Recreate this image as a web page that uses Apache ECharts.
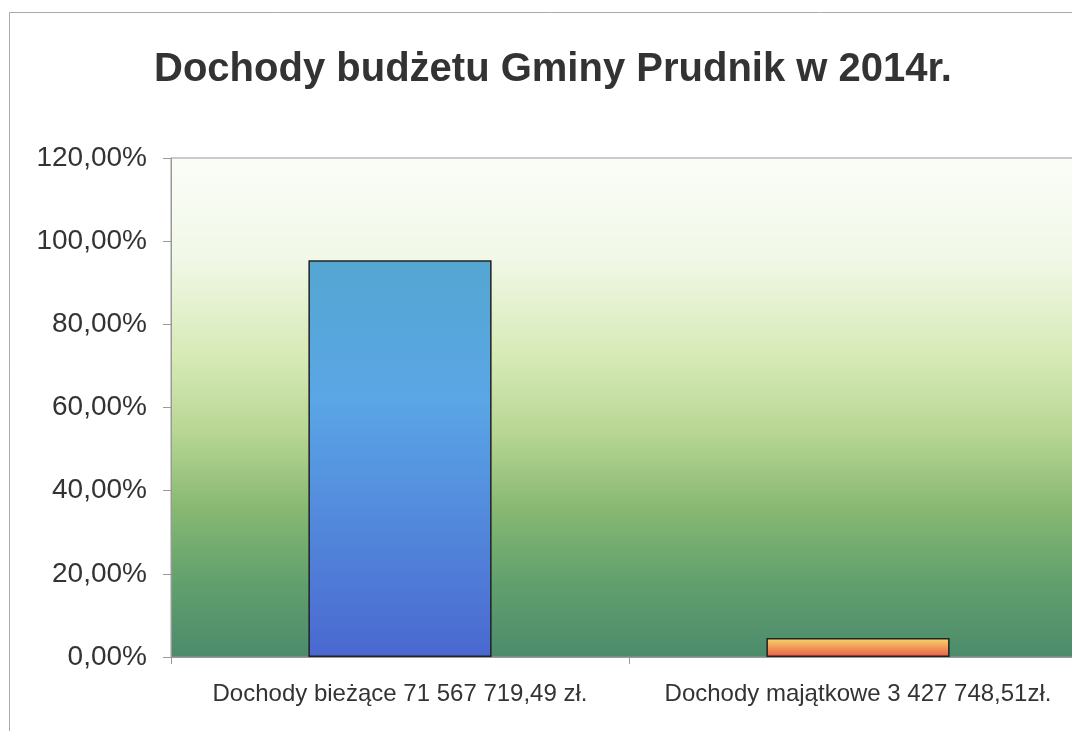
<!DOCTYPE html>
<html>
<head>
<meta charset="utf-8">
<script src="https://cdn.jsdelivr.net/npm/echarts@6/dist/echarts.min.js"></script>
<style>
  html, body { margin: 0; padding: 0; background: #fff; overflow: hidden; }
  #main { width: 1090px; height: 731px; }
</style>
</head>
<body>
<div id="main"></div>
<script>
// dane
const categories = ['Dochody bieżące 71 567 719,49 zł.', 'Dochody majątkowe 3 427 748,51zł.'];
const shares = [95.43, 4.57]; // udział w %
const yTicks = [0, 20, 40, 60, 80, 100, 120];

const chart = echarts.init(document.getElementById('main'));

const barColors = [
  new echarts.graphic.LinearGradient(0, 0, 0, 1, [
    { offset: 0, color: '#55a6d2' },
    { offset: 0.35, color: '#5aa6e6' },
    { offset: 1, color: '#4a68d0' }
  ]),
  new echarts.graphic.LinearGradient(0, 0, 0, 1, [
    { offset: 0, color: '#f8d86a' },
    { offset: 1, color: '#ea5a48' }
  ])
];

const option = {
  animation: false,
  backgroundColor: '#fff',
  textStyle: { fontFamily: 'Liberation Sans, Arial, sans-serif' },
  title: {
    text: 'Dochody budżetu Gminy Prudnik w 2014r.',
    left: 548,
    textAlign: 'center',
    top: 45,
    textStyle: { fontSize: 40, fontWeight: 'bold', color: '#333' }
  },
  graphic: [{
    type: 'rect',
    shape: { x: 9.5, y: 12.5, width: 1200, height: 900 },
    style: { fill: 'none', stroke: '#aaa', lineWidth: 1 },
    z: -1
  }],
  grid: {
    left: 171, top: 158, right: 3, bottom: 74,
    show: true,
    borderColor: '#999',
    borderWidth: 1,
    backgroundColor: new echarts.graphic.LinearGradient(0, 0, 0, 1, [
      { offset: 0, color: '#fbfdf8' },
      { offset: 0.2, color: '#f1f8e7' },
      { offset: 0.4, color: '#d6eab5' },
      { offset: 0.55, color: '#b8d694' },
      { offset: 0.7, color: '#88b973' },
      { offset: 0.85, color: '#61a06d' },
      { offset: 1, color: '#4c8b6b' }
    ])
  },
  xAxis: {
    type: 'category',
    data: categories,
    axisLine: { lineStyle: { color: '#999' } },
    axisTick: { show: true, length: 7, interval: 0, lineStyle: { color: '#999' } },
    axisLabel: { color: '#333', fontSize: 24, margin: 25, interval: 0 }
  },
  yAxis: {
    type: 'value',
    min: yTicks[0],
    max: yTicks[yTicks.length - 1],
    interval: 20,
    axisLine: { show: true, lineStyle: { color: '#999' } },
    axisTick: { show: true, length: 8, lineStyle: { color: '#999' } },
    splitLine: { show: false },
    axisLabel: {
      color: '#333', fontSize: 28, margin: 24,
      formatter: v => v.toFixed(2).replace('.', ',') + '%'
    }
  },
  series: [{
    type: 'bar',
    data: shares.map((v, i) => ({ value: v, itemStyle: { color: barColors[i] } })),
    barWidth: '40%',
    itemStyle: { borderColor: '#222', borderWidth: 1.5 }
  }]
};

chart.setOption(option);
</script>
</body>
</html>
